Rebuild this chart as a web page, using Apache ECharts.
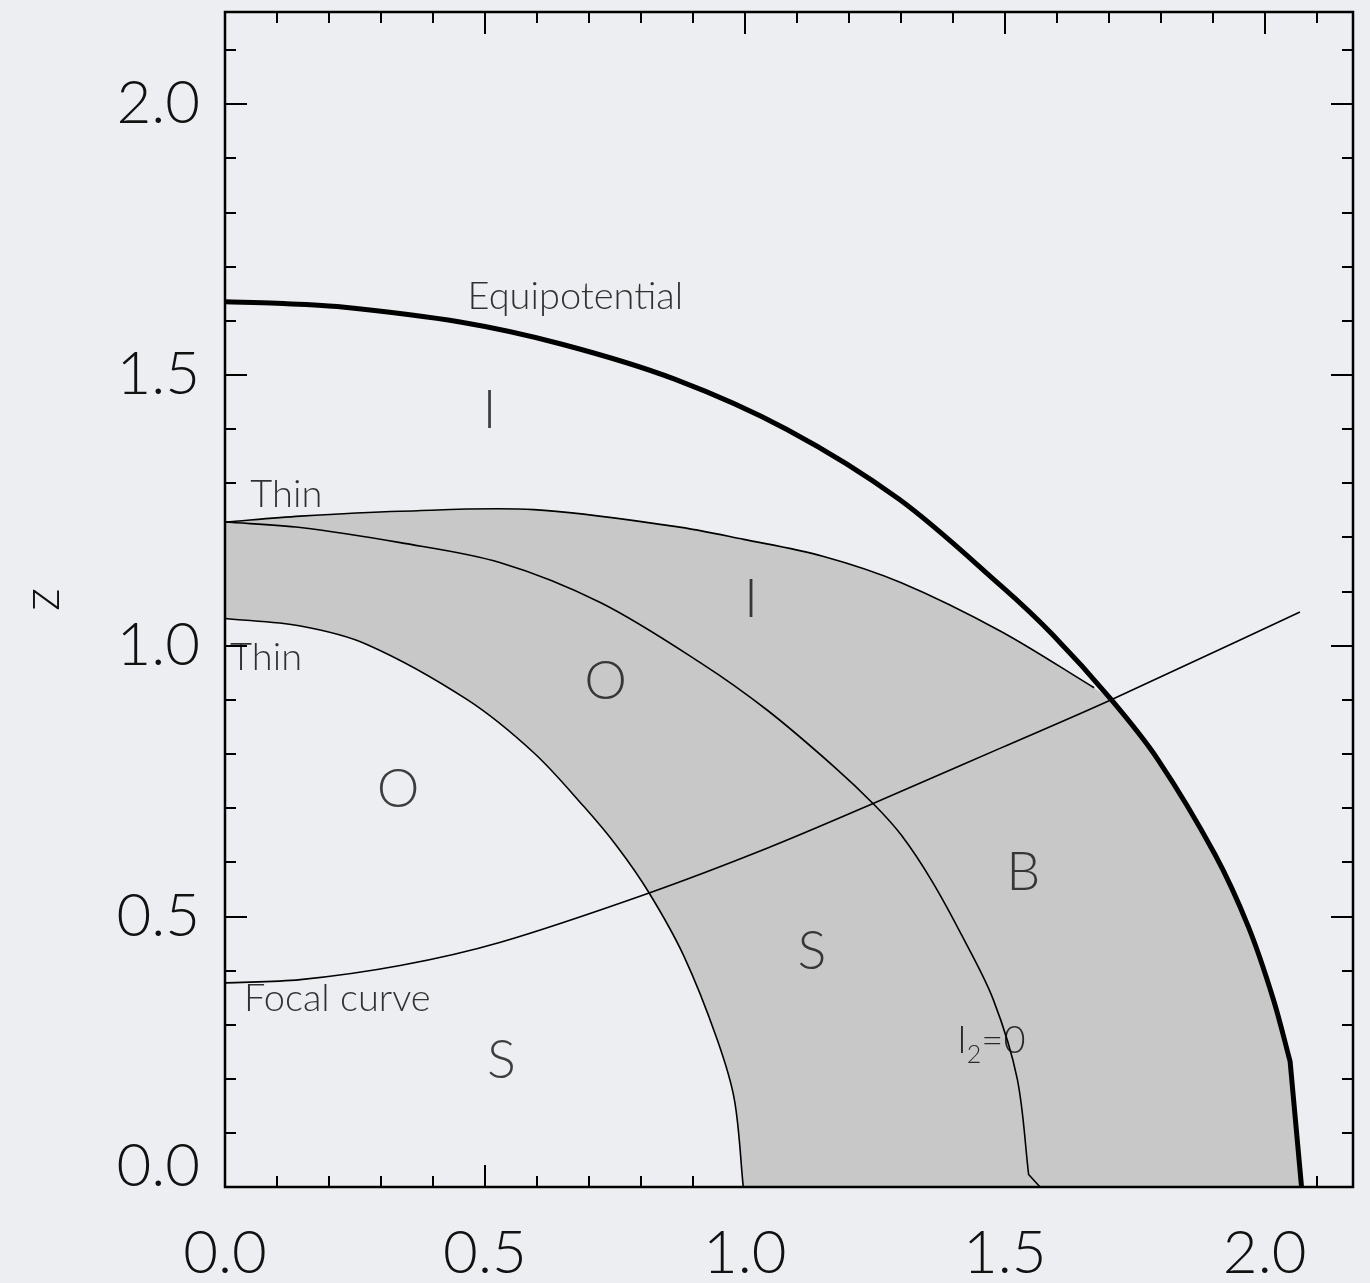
<!DOCTYPE html>
<html>
<head>
<meta charset="utf-8">
<title>Orbit regions</title>
<script src="https://cdn.jsdelivr.net/npm/echarts@6/dist/echarts.min.js"></script>
<style>
  html, body { margin: 0; padding: 0; background: #eceef1; }
  #chart { width: 1370px; height: 1283px; }
</style>
</head>
<body>
<div id="chart"></div>
<script>
// axis ranges / ticks
const xMax = 2.17;
const yMax = 2.17;
const majorStep = 0.5;
const minorStep = 0.1;

// curves, points are [R, z]
const equipotential = [
  [0.000, 1.635], [0.100, 1.632], [0.216, 1.626], [0.455, 1.597], [0.650, 1.556],
  [0.865, 1.492], [1.081, 1.399], [1.297, 1.270], [1.493, 1.110], [1.590, 1.022],
  [1.705, 0.900], [1.795, 0.789], [1.904, 0.615], [1.969, 0.480], [2.017, 0.346],
  [2.049, 0.232], [2.071, 0.000]
];
const thinUpper = [
  [0.000, 1.228], [0.145, 1.239], [0.337, 1.248], [0.594, 1.251], [0.865, 1.220],
  [0.998, 1.196], [1.150, 1.165], [1.301, 1.116], [1.493, 1.026], [1.672, 0.922]
];
const thinMiddle = [
  [0.000, 1.228], [0.145, 1.218], [0.337, 1.190], [0.530, 1.153], [0.723, 1.079],
  [0.915, 0.968], [1.044, 0.880], [1.172, 0.776], [1.249, 0.706], [1.301, 0.650],
  [1.360, 0.565], [1.420, 0.460], [1.478, 0.346], [1.524, 0.200], [1.546, 0.023],
  [1.568, 0.000]
];
const thinInner = [
  [0.000, 1.050], [0.145, 1.036], [0.273, 1.002], [0.466, 0.900], [0.594, 0.802],
  [0.690, 0.703], [0.755, 0.628], [0.816, 0.543], [0.883, 0.426], [0.947, 0.272],
  [0.980, 0.161], [0.997, 0.000]
];
const focalCurve = [
  [0.000, 0.377], [0.145, 0.383], [0.337, 0.409], [0.530, 0.452], [0.816, 0.543],
  [1.044, 0.626], [1.249, 0.709], [1.493, 0.811], [1.705, 0.900], [2.068, 1.062]
];

// region letters
const regionText = ['I', 'I', 'O', 'O', 'B', 'S', 'S'];
const regionX = [0.509, 1.012, 0.732, 0.333, 1.536, 1.129, 0.532];
const regionY = [1.434, 1.085, 0.933, 0.734, 0.580, 0.434, 0.233];

// curve captions
const captionText = ['Equipotential', 'Thin', 'Thin', 'Focal curve', 'I_2=0'];
const captionX = [0.674, 0.118, 0.079, 0.216, 1.474];
const captionY = [1.640, 1.274, 0.974, 0.344, 0.266];

const FONT = 'Lato';
const INK = '#111';

const dist = (a, b) => Math.hypot(b[0] - a[0], b[1] - a[1]);

// cubic pieces through pts[from..end] (chord-length catmull-rom);
// kink = last segment drawn straight
function segs(pts, from, kink) {
  const m = kink ? pts.length - 1 : pts.length;
  const tan = i => {
    const a = pts[Math.max(i - 1, 0)], b = pts[Math.min(i + 1, m - 1)];
    const len = dist(a, pts[i]) + dist(pts[i], b) || 1;
    return [(b[0] - a[0]) / len, (b[1] - a[1]) / len];
  };
  let d = '';
  for (let i = from; i < m - 1; i++) {
    const p1 = pts[i], p2 = pts[i + 1], h = dist(p1, p2) / 3;
    const t1 = tan(i), t2 = tan(i + 1);
    const c1 = [p1[0] + t1[0] * h, p1[1] + t1[1] * h];
    const c2 = [p2[0] - t2[0] * h, p2[1] - t2[1] * h];
    d += ' C' + c1.join(',') + ' ' + c2.join(',') + ' ' + p2.join(',');
  }
  if (kink) d += ' L' + pts[pts.length - 1].join(',');
  return d;
}

function curveSeries(name, data, width, kink) {
  return {
    type: 'custom', name, z: 4, silent: true, data: [[0, 0]],
    renderItem: (params, api) => {
      const px = data.map(p => api.coord(p));
      return {
        type: 'path',
        shape: { pathData: 'M' + px[0].join(',') + segs(px, 0, kink) },
        style: { fill: 'none', stroke: '#000', lineWidth: width, lineJoin: 'round' }
      };
    }
  };
}

// gray band: under the upper thin curve / equipotential, above the inner curve
function bandSeries() {
  return {
    type: 'custom', name: 'band', z: 2, silent: true, data: [[0, 0]],
    renderItem: (params, api) => {
      const up = thinUpper.map(p => api.coord(p));
      const eq = equipotential.map(p => api.coord(p));
      const inn = thinInner.map(p => api.coord(p)).reverse();
      const lastR = thinUpper[thinUpper.length - 1][0];
      const k = equipotential.findIndex(p => p[0] > lastR);
      const d = 'M' + up[0].join(',') + segs(up, 0, false) +
        ' L' + eq[k].join(',') + segs(eq, k, true) +
        ' L' + inn[0].join(',') + segs(inn, 0, false) + ' Z';
      return { type: 'path', shape: { pathData: d }, style: { fill: '#c8c8c8', stroke: null } };
    }
  };
}

const tickStyle = { color: '#000', width: 2 };
const labelFont = { fontFamily: FONT, fontWeight: 300, fontSize: 60, color: INK };

function xAxis(position, step, len, labels) {
  return {
    type: 'value', position, min: 0, max: xMax, interval: step,
    axisLine: { show: false, onZero: false },
    axisTick: { show: true, inside: true, length: len, lineStyle: tickStyle },
    axisLabel: labels ? Object.assign({
      show: true, margin: 37, showMaxLabel: false, formatter: v => v.toFixed(1)
    }, labelFont) : { show: false },
    splitLine: { show: false }
  };
}

function yAxis(position, step, len, labels) {
  const ax = {
    type: 'value', position, min: 0, max: yMax, interval: step,
    axisLine: { show: false, onZero: false },
    axisTick: { show: true, inside: true, length: len, lineStyle: tickStyle },
    axisLabel: labels ? Object.assign({
      show: true, margin: 25, showMaxLabel: false,
      // the bottom label sits a bit higher in the original
      formatter: v => v === 0 ? '{lift|0.0}' : v.toFixed(1),
      rich: { lift: Object.assign({ padding: [0, 0, 40, 0] }, labelFont) }
    }, labelFont) : { show: false },
    splitLine: { show: false }
  };
  if (labels) {
    ax.name = 'z';
    ax.nameLocation = 'middle';
    ax.nameRotate = 90;
    ax.nameGap = 157;
    ax.nameTextStyle = { fontFamily: FONT, fontWeight: 300, fontSize: 52, color: INK };
  }
  return ax;
}

const chart = echarts.init(document.getElementById('chart'), null, { renderer: 'canvas' });

chart.setOption({
  animation: false,
  backgroundColor: '#eceef1',
  grid: {
    left: 225, right: 17, top: 12, bottom: 96, outerBoundsMode: 'none', containLabel: false,
    show: true, borderColor: '#000', borderWidth: 2.5, backgroundColor: 'transparent', z: 10
  },
  xAxis: [
    xAxis('bottom', majorStep, 22, true),
    xAxis('bottom', minorStep, 11, false),
    xAxis('top', majorStep, 22, false),
    xAxis('top', minorStep, 11, false)
  ],
  yAxis: [
    yAxis('left', majorStep, 22, true),
    yAxis('left', minorStep, 11, false),
    yAxis('right', majorStep, 22, false),
    yAxis('right', minorStep, 11, false)
  ],
  series: [
    bandSeries(),
    curveSeries('inner', thinInner, 1.6, false),
    curveSeries('middle', thinMiddle, 1.6, true),
    curveSeries('upper', thinUpper, 1.6, false),
    curveSeries('focal', focalCurve, 1.6, false),
    curveSeries('equipotential', equipotential, 5, true),
    {
      type: 'scatter', name: 'regions', z: 6, symbolSize: 0, silent: true,
      data: regionText.map((t, i) => ({ value: [regionX[i], regionY[i]], name: t })),
      label: {
        show: true, position: 'inside', formatter: p => p.name,
        fontFamily: FONT, fontWeight: 300, fontSize: 54, color: INK
      }
    },
    {
      type: 'scatter', name: 'captions', z: 6, symbolSize: 0, silent: true,
      data: captionText.map((t, i) => ({ value: [captionX[i], captionY[i]], name: t })),
      label: {
        show: true, position: 'inside',
        formatter: p => {
          const parts = p.name.split('_');
          if (parts.length < 2) return '{c|' + p.name + '}';
          return '{c|' + parts[0] + '}{s|' + parts[1].charAt(0) + '}{c|' + parts[1].slice(1) + '}';
        },
        rich: {
          c: { fontFamily: FONT, fontWeight: 300, fontSize: 38, color: '#000', lineHeight: 42, verticalAlign: 'top' },
          s: { fontFamily: FONT, fontWeight: 300, fontSize: 25, color: '#000', lineHeight: 26, padding: [20, 0, 0, 0], verticalAlign: 'top' }
        }
      }
    }
  ]
});
</script>
</body>
</html>
